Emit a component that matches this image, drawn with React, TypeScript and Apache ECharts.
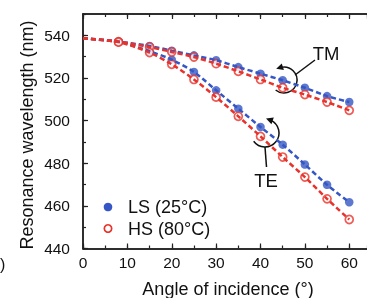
import React, { useEffect, useRef } from "react";
import * as echarts from "echarts";

const angles = [8, 15, 20, 25, 30, 35, 40, 45, 50, 55, 60];
const normalIncidence = 538.6;
const tmLS = [537.0, 535.0, 532.8, 530.6, 528.3, 525.1, 522.0, 518.9, 515.4, 511.5, 508.7];
const tmHS = [537.0, 534.5, 532.2, 529.8, 526.7, 523.1, 519.3, 515.4, 512.2, 508.7, 504.8];
const teLS = [537.0, 532.5, 528.6, 522.8, 514.2, 505.6, 497.0, 488.7, 479.4, 469.9, 461.7];
const teHS = [536.8, 531.9, 526.4, 519.3, 511.0, 502.0, 492.6, 482.9, 473.5, 463.3, 453.6];
const xTicks = { min: 0, max: 64, major: 10, minor: 5 };
const yTicks = { min: 440, max: 550, major: 20, minor: 10 };
const legendNames = ["LS (25°C)", "HS (80°C)"];

const BLUE = "#3556c4";
const RED = "#e8322b";
const FONT = "'Liberation Sans', Arial, sans-serif";

function pts(vals: number[]) {
  return angles.map((a, i) => [a, vals[i]]);
}
function fit(vals: number[]) {
  return [[0, normalIncidence], ...pts(vals)];
}

function arrowHead(cx: number, cy: number, r: number, deg: number) {
  const t = (deg * Math.PI) / 180;
  const ex = cx + r * Math.cos(t);
  const ey = cy + r * Math.sin(t);
  const dx = Math.sin(t);
  const dy = -Math.cos(t);
  const nx = -dy;
  const ny = dx;
  return [
    [ex + 4 * dx, ey + 4 * dy],
    [ex - 3 * dx + 3.5 * nx, ey - 3 * dy + 3.5 * ny],
    [ex - 3 * dx - 3.5 * nx, ey - 3 * dy - 3.5 * ny],
  ];
}

export default function App() {
  const ref = useRef<HTMLDivElement>(null);
  useEffect(() => {
    if (!ref.current) return;
    const chart = echarts.init(ref.current, null, { renderer: "svg" });
    const axisLine = { show: true, lineStyle: { color: "#222", width: 1.5 } };
    const mkX = (pos: "bottom" | "top", interval: number, len: number, labels: boolean) => ({
      type: "value",
      position: pos,
      min: xTicks.min,
      max: xTicks.max,
      interval,
      axisLine,
      splitLine: { show: false },
      axisTick: { show: true, inside: true, length: len, lineStyle: { color: "#222", width: 1.2 } },
      axisLabel: labels
        ? { show: true, margin: 6, fontSize: 15.5, color: "#111", fontFamily: FONT, showMaxLabel: false }
        : { show: false },
    });
    const mkY = (interval: number, len: number, labels: boolean) => ({
      type: "value",
      position: "left",
      min: yTicks.min,
      max: yTicks.max,
      interval,
      axisLine,
      splitLine: { show: false },
      axisTick: { show: true, inside: true, length: len, lineStyle: { color: "#222", width: 1.2 } },
      axisLabel: labels
        ? { show: true, margin: 13, fontSize: 15.5, color: "#111", fontFamily: FONT, showMaxLabel: false }
        : { show: false },
    });
    const dashed = (color: string) => ({ color, width: 2.5, type: [5, 3] as any });
    const lineS = (vals: number[], color: string) => ({
      type: "line",
      data: fit(vals),
      smooth: 0.3,
      symbol: "none",
      lineStyle: dashed(color),
      silent: true,
    });
    const blueDots = (vals: number[]) => ({
      type: "scatter",
      data: pts(vals),
      symbol: "circle",
      symbolSize: 8.5,
      itemStyle: { color: BLUE },
    });
    const redRings = (vals: number[]) => ({
      type: "scatter",
      data: pts(vals),
      symbol: "circle",
      symbolSize: 8,
      itemStyle: { color: "#fff", borderColor: RED, borderWidth: 1.7 },
    });
    const tmC = { cx: 284, cy: 80, r: 13 };
    const teC = { cx: 265, cy: 133, r: 14 };
    const black = { stroke: "#111", lineWidth: 1.5, fill: null as any };
    chart.setOption({
      animation: false,
      grid: { left: 83, top: 14, width: 64 * 4.48, height: 234.5, containLabel: false },
      xAxis: [
        mkX("bottom", xTicks.major, 5, true),
        mkX("bottom", xTicks.minor, 3, false),
        mkX("top", xTicks.major, 5, false),
        mkX("top", xTicks.minor, 3, false),
      ],
      yAxis: [mkY(yTicks.major, 5, true), mkY(yTicks.minor, 3, false)],
      series: [
        lineS(tmLS, BLUE),
        lineS(teLS, BLUE),
        blueDots(tmLS),
        blueDots(teLS),
        lineS(tmHS, RED),
        lineS(teHS, RED),
        redRings(tmHS),
        redRings(teHS),
      ],
      graphic: [
        {
          type: "text",
          x: 228,
          y: 289,
          style: { text: "Angle of incidence (°)", font: `18px ${FONT}`, fill: "#111", align: "center", verticalAlign: "middle" },
        },
        {
          type: "text",
          x: 27,
          y: 135,
          rotation: Math.PI / 2,
          style: { text: "Resonance wavelength (nm)", font: `18px ${FONT}`, fill: "#111", align: "center", verticalAlign: "middle" },
        },
        {
          type: "text",
          x: 0,
          y: 264,
          style: { text: ")", font: `16px ${FONT}`, fill: "#111", align: "left", verticalAlign: "middle" },
        },
        { type: "circle", shape: { cx: 108, cy: 207, r: 4.3 }, style: { fill: BLUE } },
        { type: "circle", shape: { cx: 108, cy: 228.5, r: 3.7 }, style: { fill: "#fff", stroke: RED, lineWidth: 1.7 } },
        {
          type: "text",
          x: 128,
          y: 207,
          style: { text: legendNames[0], font: `18px ${FONT}`, fill: "#111", align: "left", verticalAlign: "middle" },
        },
        {
          type: "text",
          x: 128,
          y: 228.5,
          style: { text: legendNames[1], font: `18px ${FONT}`, fill: "#111", align: "left", verticalAlign: "middle" },
        },
        {
          type: "text",
          x: 326,
          y: 53,
          style: { text: "TM", font: `18.5px ${FONT}`, fill: "#111", align: "center", verticalAlign: "middle" },
        },
        {
          type: "text",
          x: 266,
          y: 180,
          style: { text: "TE", font: `18.5px ${FONT}`, fill: "#111", align: "center", verticalAlign: "middle" },
        },
        { type: "line", shape: { x1: 315, y1: 60, x2: 295, y2: 75 }, style: { stroke: "#111", lineWidth: 1.5 } },
        { type: "line", shape: { x1: 265, y1: 147, x2: 266.5, y2: 167 }, style: { stroke: "#111", lineWidth: 1.5 } },
        {
          type: "arc",
          shape: { ...tmC, startAngle: (-104 * Math.PI) / 180, endAngle: (130 * Math.PI) / 180, clockwise: true },
          style: black,
        },
        { type: "polygon", shape: { points: arrowHead(tmC.cx, tmC.cy, tmC.r, -108) }, style: { fill: "#111" } },
        {
          type: "arc",
          shape: { ...teC, startAngle: (-66 * Math.PI) / 180, endAngle: (144 * Math.PI) / 180, clockwise: true },
          style: black,
        },
        { type: "polygon", shape: { points: arrowHead(teC.cx, teC.cy, teC.r, -70) }, style: { fill: "#111" } },
      ],
    });
    return () => chart.dispose();
  }, []);
  return <div ref={ref} style={{ position: "fixed", left: 0, top: 0, width: 367, height: 298 }} />;
}
